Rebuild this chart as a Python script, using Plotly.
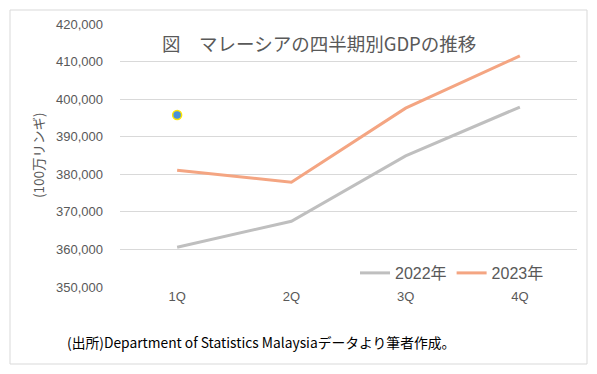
import plotly.graph_objects as go

categories = ["1Q", "2Q", "3Q", "4Q"]
gdp_2022 = [360600, 367500, 384900, 397900]
gdp_2023 = [381100, 377900, 397600, 411500]
stray_point_cat = ["1Q"]
stray_point_val = [395800]

L, R, T, B = 120, 20, 24, 87
W, H = 597, 374
pw, ph = W - L - R, H - T - B

def px(x):
    return (x - L) / pw

def py(y):
    return (H - B - y) / ph

font_jp = "Noto Sans CJK JP, Liberation Sans, sans-serif"
grey = "#595959"

fig = go.Figure()
fig.add_trace(go.Scatter(x=categories, y=gdp_2022, mode="lines", name="2022年",
                         line=dict(color="#BFBFBF", width=3)))
fig.add_trace(go.Scatter(x=categories, y=gdp_2023, mode="lines", name="2023年",
                         line=dict(color="#F4A582", width=3)))
fig.add_trace(go.Scatter(x=stray_point_cat, y=stray_point_val, mode="markers", showlegend=False,
                         marker=dict(color="#4A90D9", size=9, line=dict(color="#FFE600", width=1.5))))

fig.update_layout(
    width=W, height=H,
    margin=dict(l=L, r=R, t=T, b=B),
    paper_bgcolor="white", plot_bgcolor="white",
    font=dict(family="Liberation Sans, Arial, sans-serif", color=grey, size=12),
    showlegend=True,
    legend=dict(orientation="h", x=px(355), y=py(273), xanchor="left", yanchor="middle",
                font=dict(size=16, family="Liberation Sans, " + font_jp, color=grey),
                bgcolor="rgba(0,0,0,0)", itemwidth=30, tracegroupgap=0),
    xaxis=dict(showgrid=False, showline=False, ticks="", zeroline=False,
               range=[-0.5, 3.5], tickfont=dict(size=13, color=grey)),
    yaxis=dict(range=[350000, 420000], dtick=10000, tickformat=",d",
               showgrid=True, gridcolor="#D9D9D9", gridwidth=1, zeroline=False,
               showline=False, ticks="", tickfont=dict(size=13, color=grey),
               ticklabelstandoff=16),
    shapes=[dict(type="rect", xref="paper", yref="paper",
                 x0=px(10), x1=px(587), y0=py(364), y1=py(10),
                 line=dict(color="#D9D9D9", width=1), fillcolor="rgba(0,0,0,0)", layer="below")],
    annotations=[
        dict(text="図　マレーシアの四半期別GDPの推移", xref="paper", yref="paper",
             x=px(319), y=py(43), xanchor="center", yanchor="middle", showarrow=False,
             font=dict(size=18.5, family=font_jp, color=grey)),
        dict(text="(100万リンギ)", xref="paper", yref="paper", textangle=-90,
             x=px(38), y=py(155), xanchor="center", yanchor="middle", showarrow=False,
             font=dict(size=13.5, family=font_jp, color=grey)),
        dict(text="(出所)Department of Statistics Malaysiaデータより筆者作成。", xref="paper", yref="paper",
             x=px(65), y=py(342), xanchor="left", yanchor="middle", showarrow=False,
             font=dict(size=13.8, family=font_jp, color="#000000")),
    ],
)

fig.write_html("out.html", config={"displayModeBar": False},
               post_script="document.body.style.margin='0px';document.body.style.padding='0px';")
